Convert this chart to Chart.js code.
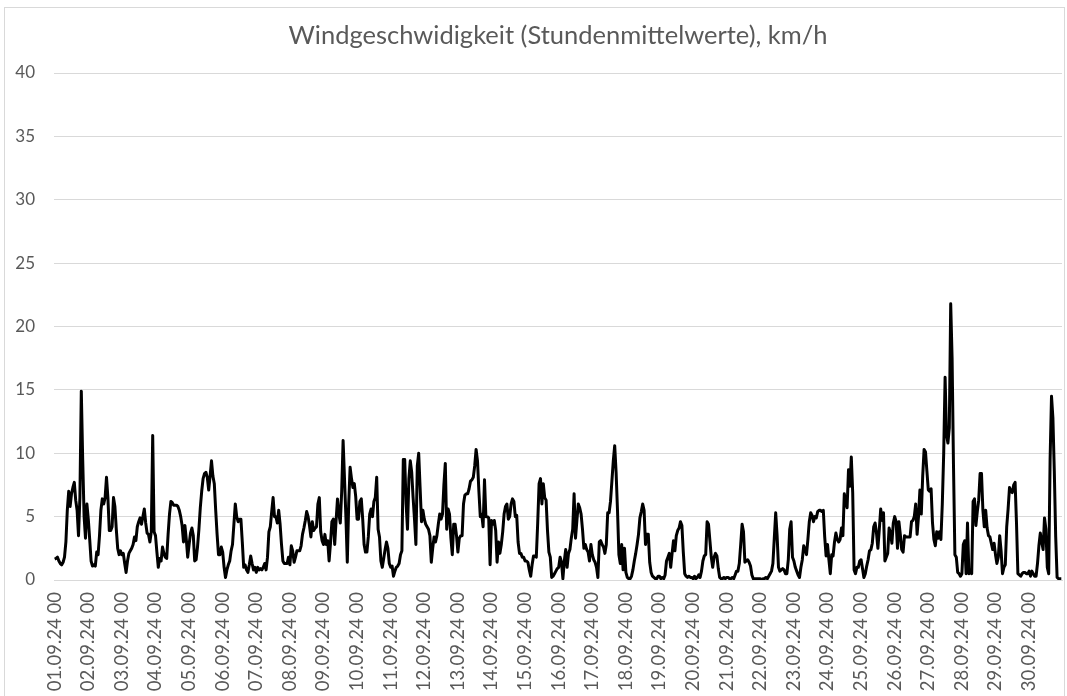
<!DOCTYPE html>
<html>
<head>
<meta charset="utf-8">
<script src="https://cdn.jsdelivr.net/npm/chart.js@4.4.1/dist/chart.umd.min.js"></script>
<style>
    html, body { margin: 0; padding: 0; background: #fff; }
    #wrap { position: relative; width: 1067px; height: 696px; }
    #frame { position: absolute; left: 4px; top: 7px; width: 1059px; height: 700px;
             border: 1px solid #d9d9d9; pointer-events: none; }
</style>
</head>
<body>
<div id="wrap">
    <canvas id="wind-chart" width="1067" height="696"></canvas>
    <div id="frame"></div>
</div>
<script>
// hourly means, km/h, one array per day (00..23 h)
var day01 = [1.65, 1.7, 1.8, 1.5, 1.3, 1.2, 1.4, 1.8, 3.0, 5.5, 7.0, 5.8, 6.8, 7.3, 7.7, 6.3, 5.5, 3.5, 6.5, 14.9, 9.5, 5.0, 3.3, 6.0];
var day02 = [4.8, 3.2, 1.5, 1.1, 1.2, 1.1, 2.2, 2.0, 3.5, 5.5, 6.4, 6.0, 6.5, 8.1, 6.5, 3.9, 3.9, 4.2, 6.5, 5.8, 4.0, 2.5, 2.0, 2.3];
var day03 = [2.0, 2.1, 1.3, 0.6, 1.5, 2.1, 2.3, 2.5, 2.8, 3.4, 3.1, 4.2, 4.6, 4.9, 4.4, 5.0, 5.6, 4.5, 3.7, 3.6, 3.0, 3.8, 11.4, 3.8];
var day04 = [3.5, 2.2, 1.0, 1.7, 1.5, 2.6, 2.1, 1.8, 1.7, 3.6, 5.2, 6.2, 6.1, 5.9, 5.9, 5.9, 5.8, 5.5, 5.0, 4.3, 3.0, 4.3, 3.2, 1.8];
var day05 = [2.8, 3.7, 4.1, 3.5, 1.5, 1.6, 2.6, 4.0, 5.7, 7.0, 8.0, 8.4, 8.5, 8.1, 7.1, 8.2, 9.4, 8.2, 7.6, 5.5, 3.6, 2.0, 2.0, 2.6];
var day06 = [2.2, 1.0, 0.2, 0.8, 1.2, 1.5, 2.3, 2.8, 4.4, 6.0, 5.0, 4.6, 4.8, 4.8, 3.0, 1.0, 1.2, 0.8, 0.6, 1.2, 1.9, 1.3, 0.8, 1.0];
var day07 = [0.6, 1.0, 0.8, 0.9, 0.8, 1.0, 1.3, 0.8, 1.8, 3.8, 4.2, 5.4, 6.5, 5.0, 5.0, 4.5, 5.5, 4.4, 2.8, 1.5, 1.3, 1.3, 1.3, 1.8];
var day08 = [1.2, 2.7, 2.3, 1.4, 1.8, 2.3, 2.3, 2.3, 2.7, 3.6, 4.1, 4.7, 5.4, 5.0, 4.3, 3.4, 4.6, 3.9, 4.1, 4.2, 6.0, 6.5, 3.8, 3.1];
var day09 = [2.8, 3.6, 2.8, 3.1, 1.5, 2.9, 4.6, 4.8, 2.8, 4.7, 6.4, 5.2, 4.5, 7.0, 11.0, 8.0, 5.0, 1.4, 6.0, 8.9, 8.0, 7.3, 7.6, 6.6];
var day10 = [4.8, 4.8, 6.2, 6.4, 4.8, 2.8, 2.2, 2.2, 3.4, 5.2, 5.6, 5.0, 6.2, 6.5, 8.1, 4.0, 3.4, 1.5, 1.0, 1.7, 2.4, 3.0, 2.5, 1.3];
var day11 = [1.0, 1.1, 0.3, 0.7, 1.0, 1.1, 1.3, 2.0, 2.3, 9.5, 9.5, 6.0, 4.0, 8.0, 9.4, 8.5, 6.5, 4.8, 2.8, 9.0, 10.0, 7.3, 4.6, 5.5];
var day12 = [4.8, 4.4, 4.2, 4.0, 3.5, 1.4, 2.5, 3.4, 3.0, 3.5, 4.4, 5.2, 4.8, 5.2, 7.5, 9.2, 4.0, 5.6, 5.2, 3.3, 2.0, 4.4, 4.4, 3.5];
var day13 = [2.2, 3.3, 3.5, 3.5, 6.0, 6.7, 6.8, 6.8, 7.2, 7.8, 7.9, 8.1, 9.0, 10.3, 9.4, 7.0, 5.0, 5.2, 4.2, 7.9, 5.0, 5.0, 4.9, 1.2];
var day14 = [4.7, 4.4, 4.7, 3.9, 1.4, 3.0, 2.1, 2.8, 3.8, 5.2, 5.8, 6.0, 4.8, 5.0, 6.0, 6.4, 6.2, 5.0, 5.1, 3.0, 2.1, 2.1, 1.8, 1.8];
var day15 = [1.5, 1.5, 1.4, 0.8, 0.3, 1.2, 1.9, 1.9, 1.8, 4.5, 7.6, 8.0, 6.0, 7.6, 6.5, 6.3, 3.9, 2.2, 1.8, 0.2, 0.3, 0.5, 0.7, 0.9];
var day16 = [1.0, 1.8, 1.4, 0.1, 1.5, 2.4, 1.0, 2.1, 2.4, 3.3, 4.0, 6.8, 3.3, 4.7, 6.0, 5.7, 5.2, 4.0, 2.5, 2.8, 2.4, 2.2, 1.5, 2.8];
var day17 = [2.0, 1.6, 1.4, 1.0, 0.2, 3.0, 3.1, 2.8, 2.6, 2.1, 2.8, 5.3, 5.3, 6.2, 7.8, 9.4, 10.6, 8.5, 5.5, 2.0, 1.3, 2.8, 0.8, 2.5];
var day18 = [0.6, 0.2, 0.1, 0.1, 0.3, 0.8, 1.5, 2.1, 2.8, 3.6, 4.9, 5.4, 6.0, 5.5, 2.8, 3.6, 3.6, 1.4, 0.6, 0.3, 0.2, 0.1, 0.1, 0.3];
var day19 = [0.3, 0.1, 0.2, 0.1, 0.4, 1.5, 1.8, 2.1, 1.0, 2.1, 3.1, 2.3, 3.5, 3.9, 4.1, 4.6, 4.3, 2.2, 0.5, 0.3, 0.2, 0.3, 0.2, 0.2];
var day20 = [0.1, 0.3, 0.1, 0.2, 0.4, 0.2, 0.7, 1.5, 1.9, 2.0, 4.6, 4.4, 3.1, 1.8, 1.0, 1.8, 2.1, 1.9, 0.9, 0.2, 0.1, 0.1, 0.2, 0.1];
var day21 = [0.2, 0.2, 0.1, 0.1, 0.2, 0.1, 0.4, 0.7, 0.7, 1.3, 2.8, 4.4, 3.8, 1.4, 1.5, 1.6, 1.4, 1.1, 0.4, 0.1, 0.1, 0.1, 0.1, 0.1];
var day22 = [0.1, 0.0, 0.1, 0.1, 0.2, 0.1, 0.3, 0.5, 0.7, 1.3, 3.3, 5.3, 3.5, 1.0, 0.7, 0.8, 0.9, 0.8, 0.5, 0.5, 1.6, 4.0, 4.6, 1.8];
var day23 = [1.5, 1.0, 0.7, 0.4, 0.2, 1.0, 1.6, 2.7, 2.4, 2.0, 3.2, 4.6, 5.3, 5.1, 4.6, 5.0, 4.9, 5.4, 5.5, 5.5, 5.4, 5.5, 3.4, 1.9];
var day24 = [2.8, 1.6, 0.5, 2.0, 1.9, 3.0, 3.7, 3.2, 3.0, 3.2, 4.1, 3.5, 6.8, 6.2, 5.7, 8.7, 7.4, 9.7, 6.9, 0.8, 0.5, 1.0, 1.0, 1.5];
var day25 = [1.6, 0.9, 0.2, 0.5, 1.1, 1.6, 2.3, 2.4, 2.9, 4.2, 4.5, 3.7, 2.5, 4.0, 5.6, 4.7, 5.3, 1.5, 1.8, 2.1, 4.1, 3.7, 2.9, 4.5];
var day26 = [5.0, 4.6, 2.5, 4.6, 3.6, 2.4, 2.2, 3.5, 3.4, 3.4, 3.4, 3.4, 4.6, 4.7, 5.0, 6.0, 3.6, 5.0, 7.1, 5.2, 8.2, 10.3, 10.1, 8.6];
var day27 = [7.1, 7.0, 7.2, 4.5, 3.2, 2.7, 3.8, 3.3, 3.8, 3.2, 6.0, 10.0, 16.0, 11.5, 10.8, 12.0, 21.8, 17.5, 9.0, 2.0, 1.8, 0.6, 0.5, 0.3];
var day28 = [0.5, 2.8, 3.1, 0.5, 4.5, 0.5, 0.8, 0.5, 6.2, 6.4, 4.3, 5.4, 6.3, 8.4, 8.4, 5.5, 4.2, 5.5, 4.1, 3.5, 3.4, 2.9, 2.4, 2.9];
var day29 = [2.0, 1.3, 1.8, 3.5, 2.3, 0.5, 1.0, 1.2, 4.2, 5.6, 7.3, 7.0, 6.9, 7.5, 7.7, 4.5, 0.5, 0.4, 0.3, 0.5, 0.6, 0.6, 0.5, 0.5];
var day30 = [0.7, 0.3, 0.7, 0.5, 0.3, 0.3, 1.3, 2.7, 3.7, 3.0, 2.4, 4.9, 4.0, 1.0, 0.5, 9.5, 14.5, 12.8, 8.6, 3.4, 0.2, 0.1, 0.1, 0.1];

var days = ["01.09.24", "02.09.24", "03.09.24", "04.09.24", "05.09.24", "06.09.24", "07.09.24", "08.09.24",
    "09.09.24", "10.09.24", "11.09.24", "12.09.24", "13.09.24", "14.09.24", "15.09.24", "16.09.24",
    "17.09.24", "18.09.24", "19.09.24", "20.09.24", "21.09.24", "22.09.24", "23.09.24", "24.09.24",
    "25.09.24", "26.09.24", "27.09.24", "28.09.24", "29.09.24", "30.09.24"];
var hours = ["00", "01", "02", "03", "04", "05", "06", "07", "08", "09", "10", "11",
    "12", "13", "14", "15", "16", "17", "18", "19", "20", "21", "22", "23"];
var yTicks = [0, 5, 10, 15, 20, 25, 30, 35, 40];

var dayValues = [day01, day02, day03, day04, day05, day06, day07, day08, day09, day10,
    day11, day12, day13, day14, day15, day16, day17, day18, day19, day20,
    day21, day22, day23, day24, day25, day26, day27, day28, day29, day30];

var labels = [],
    values = [];

days.forEach(function (day, i) {
    hours.forEach(function (hour, j) {
        labels.push(day + " " + hour);
        values.push(dayValues[i][j]);
    });
});

var gray = "#595959",
    gridGray = "#d9d9d9";

new Chart("wind-chart", {
    type: "line",
    data: {
        labels: labels,
        datasets: [{
            data: values,
            borderColor: "#000",
            borderWidth: 3,
            borderJoinStyle: "round",
            pointRadius: 0,
            tension: 0,
            fill: false
        }]
    },
    options: {
        responsive: false,
        animation: false,
        layout: { padding: { left: 0, right: 5, top: 0, bottom: 0 } },
        plugins: {
            legend: { display: false },
            tooltip: { enabled: false },
            title: {
                display: true,
                text: "Windgeschwidigkeit (Stundenmittelwerte), km/h",
                color: gray,
                fullSize: false,
                font: { family: "Lato", size: 25.5, weight: "normal" },
                padding: { top: 20, bottom: 22.4 }
            }
        },
        scales: {
            x: {
                type: "category",
                offset: true,
                grid: { display: false, drawTicks: false },
                border: { display: true, color: gridGray },
                ticks: {
                    autoSkip: false,
                    minRotation: 90,
                    maxRotation: 90,
                    padding: 12,
                    color: gray,
                    font: { family: "Lato", size: 18.5 },
                    callback: function (val, index) {
                        return index % 24 === 0 ? this.getLabelForValue(val) : "";
                    }
                },
                afterFit: function (scale) {
                    scale.height = 116;
                    scale.paddingLeft = 0;
                    scale.paddingRight = 0;
                }
            },
            y: {
                min: 0,
                max: 40,
                afterBuildTicks: function (scale) {
                    scale.ticks = yTicks.map(function (v) { return { value: v }; });
                },
                grid: { color: gridGray, lineWidth: 1, drawTicks: false },
                border: { display: false },
                ticks: {
                    padding: 19,
                    color: gray,
                    font: { family: "Lato", size: 17 }
                },
                afterFit: function (scale) { scale.width = 54; }
            }
        }
    }
});
</script>
</body>
</html>
